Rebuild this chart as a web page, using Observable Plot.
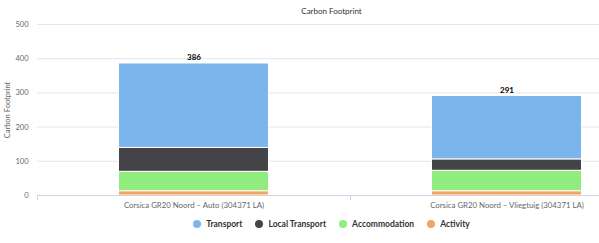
<!DOCTYPE html>
<html>
<head>
<meta charset="utf-8">
<script src="https://cdn.jsdelivr.net/npm/d3@7"></script>
<script src="https://cdn.jsdelivr.net/npm/@observablehq/plot@0.6"></script>
<style>
  html, body { margin: 0; padding: 0; background: #fff; overflow: hidden; }
  #wrap { width: 663px; font-family: Lato, "Open Sans", sans-serif; position: relative; }
  #title { height: 18px; text-align: center; font-size: 8px; color: #333; line-height: 22px; }
  #legend { display: flex; justify-content: center; align-items: center; height: 16px; font-size: 8.5px; font-weight: bold; color: #333; }
  #legend .item { display: flex; align-items: center; margin: 0 6.5px; }
  #legend .dot { width: 8px; height: 8px; border-radius: 50%; margin-right: 5px; }
  #ytitle { position: absolute; left: 7px; top: 110px; transform: translate(-50%, -50%) rotate(-90deg); font-size: 7.5px; color: #666; white-space: nowrap; }
</style>
</head>
<body>
<div id="wrap">
  <div id="title">Carbon Footprint</div>
  <div id="chart"></div>
  <div id="legend"></div>
  <div id="ytitle">Carbon Footprint</div>
</div>
<script>
const categories = ["Corsica GR20 Noord – Auto (304371 LA)", "Corsica GR20 Noord – Vliegtuig (304371 LA)"];
const series = ["Transport", "Local Transport", "Accommodation", "Activity"];
const colors = ["#7cb5ec", "#434348", "#90ed7d", "#f7a35c"];
const transport = [247, 186];
const localTransport = [70, 33];
const accommodation = [57, 60];
const activity = [12, 12];
const totals = [386, 291];
const yTicks = [0, 100, 200, 300, 400, 500];

const valuesBySeries = {
  "Transport": transport,
  "Local Transport": localTransport,
  "Accommodation": accommodation,
  "Activity": activity
};
const rows = [];
series.forEach(s => categories.forEach((c, i) => rows.push({category: c, series: s, value: valuesBySeries[s][i]})));
const totalRows = categories.map((c, i) => ({category: c, total: totals[i]}));

const chart = Plot.plot({
  width: 663,
  height: 198,
  marginLeft: 37,
  marginRight: 0,
  marginTop: 6,
  marginBottom: 21,
  style: {fontFamily: "Lato, 'Open Sans', sans-serif", fontSize: "7.5px", color: "#666", background: "#fff"},
  x: {domain: categories, padding: 0, axis: null},
  y: {domain: [0, 500], ticks: yTicks, axis: null},
  color: {domain: series, range: colors},
  marks: [
    Plot.ruleY(yTicks.filter(d => d > 0), {stroke: "#e6e6e6", strokeWidth: 1}),
    Plot.barY(rows, Plot.stackY({
      x: "category", y: "value", fill: "series",
      order: ["Activity", "Accommodation", "Local Transport", "Transport"],
      stroke: "#fff", strokeWidth: 1,
      insetLeft: 81.5, insetRight: 81.5
    })),
    Plot.ruleY([0], {stroke: "#ccd6eb", strokeWidth: 1}),
    Plot.ruleX(categories, {x: d => d, dx: -156.5, y1: 0, y2: 0, insetBottom: -5, stroke: "#ccd6eb"}),
    Plot.text(totalRows, {x: "category", y: "total", text: d => String(d.total), dy: -6, fontWeight: "bold", fill: "#000", fontSize: 8}),
    Plot.axisY({ticks: yTicks, tickSize: 0, tickPadding: 9, fill: "#666", fontSize: 7.5}),
    Plot.axisX({tickSize: 0, tickPadding: 7, fill: "#666", fontSize: 7.8, label: null})
  ]
});
document.getElementById("chart").appendChild(chart);

const legend = document.getElementById("legend");
series.forEach((s, i) => {
  const item = document.createElement("div");
  item.className = "item";
  const dot = document.createElement("span");
  dot.className = "dot";
  dot.style.background = colors[i];
  const label = document.createElement("span");
  label.textContent = s;
  item.appendChild(dot);
  item.appendChild(label);
  legend.appendChild(item);
});
</script>
</body>
</html>
